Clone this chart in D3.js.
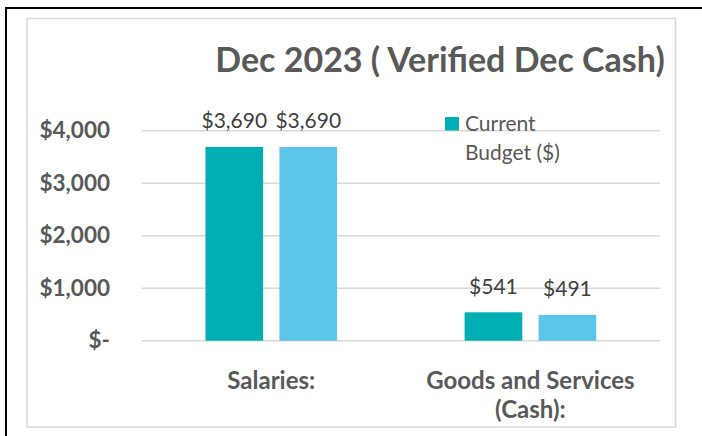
<!DOCTYPE html>
<html>
<head>
<meta charset="utf-8">
<script src="https://cdn.jsdelivr.net/npm/d3@7"></script>
<style>
  body { margin: 0; background: #fff; }
  text { font-family: Lato, "Open Sans", sans-serif; }
</style>
</head>
<body>
<div id="chart"></div>
<script>
var categories = ["Salaries:", "Goods and Services (Cash):"],
    seriesNames = ["Current Budget ($)", "Verified Dec Cash"],
    currentBudget = [3690, 541],
    verifiedCash = [3690, 491],
    yTicks = [0, 1000, 2000, 3000, 4000],
    titleText = "Dec 2023 ( Verified Dec Cash)"

var W = 702, H = 436,
    colors = ["#00aeb3", "#5bc6ea"],
    textGrey = "#595959",
    gridGrey = "#d9d9d9"

var svg = d3.select("#chart").append("svg")
    .attr("width", W)
    .attr("height", H)

// sheet cell border + chart area frame
svg.append("path")
    .attr("d", "M6,436V8H702")
    .style("fill", "none")
    .style("stroke", "#000")
    .style("stroke-width", 2)
svg.append("rect")
    .attr("x", 27).attr("y", 18.5)
    .attr("width", 648.5).attr("height", 408.5)
    .style("fill", "#fff")
    .style("stroke", gridGrey)
    .style("stroke-width", 1.5)

var x0 = d3.scaleBand()
    .domain(categories)
    .range([141.7, 660])
    .paddingInner(0.492)
    .paddingOuter(0.246)
var x1 = d3.scaleBand()
    .domain(seriesNames)
    .range([0, x0.bandwidth()])
    .paddingInner(0.22)
var y = d3.scaleLinear()
    .domain([0, 4000])
    .range([340.7, 130.7])

// gridlines
svg.append("g")
    .selectAll("line")
    .data(yTicks)
    .join("line")
    .attr("x1", 141.7).attr("x2", 660)
    .attr("y1", d => y(d)).attr("y2", d => y(d))
    .style("stroke", gridGrey)
    .style("stroke-width", 1.5)

// y axis labels
var yAxis = svg.append("g")
    .attr("transform", "translate(110,0)")
    .call(d3.axisLeft(y)
          .tickValues(yTicks)
          .tickSize(0)
          .tickPadding(0)
          .tickFormat(d => d === 0 ? "$-" : d3.format("$,")(d)))
yAxis.select(".domain").remove()
yAxis.selectAll("text")
    .style("font-family", "Lato, sans-serif")
    .style("font-size", "22.5px")
    .style("font-weight", "bold")
    .style("fill", textGrey)

var rows = categories.map((c, i) => ({
    cat: c,
    values: [currentBudget[i], verifiedCash[i]]
}))

var groups = svg.append("g")
    .selectAll("g")
    .data(rows)
    .join("g")
    .attr("transform", d => "translate(" + x0(d.cat) + ",0)")

var bars = groups.selectAll("g")
    .data(d => d.values.map((v, j) => ({ name: seriesNames[j], value: v, j: j })))
    .join("g")

bars.append("rect")
    .attr("x", d => x1(d.name))
    .attr("y", d => y(d.value))
    .attr("width", x1.bandwidth())
    .attr("height", d => y(0) - y(d.value))
    .style("fill", d => colors[d.j])

bars.append("text")
    .attr("x", d => x1(d.name) + x1.bandwidth() / 2)
    .attr("y", d => y(d.value) - 18.5)
    .attr("text-anchor", "middle")
    .style("font-size", "21px")
    .style("fill", "#404040")
    .text(d => d3.format("$,")(d.value))

// category labels, wrapped like Excel does
var catLines = [["Salaries:"], ["Goods and Services", "(Cash):"]]
svg.append("g")
    .selectAll("text")
    .data(categories)
    .join("text")
    .attr("x", d => x0(d) + x0.bandwidth() / 2)
    .attr("y", 388.5)
    .attr("text-anchor", "middle")
    .style("font-size", "24px")
    .style("font-weight", "bold")
    .style("fill", textGrey)
    .selectAll("tspan")
    .data((d, i) => catLines[i])
    .join("tspan")
    .attr("x", function() { return this.parentNode.getAttribute("x") })
    .attr("dy", (d, i) => i ? 29 : 0)
    .text(d => d)

// title
svg.append("text")
    .attr("x", 440)
    .attr("y", 71.5)
    .attr("text-anchor", "middle")
    .style("font-size", "34px")
    .style("font-weight", "bold")
    .style("fill", textGrey)
    .text(titleText)

// legend (only first series shown)
var legend = svg.append("g")
    .attr("transform", "translate(445,117)")
legend.append("rect")
    .attr("width", 14).attr("height", 13.5)
    .style("fill", colors[0])
legend.append("text")
    .attr("x", 20)
    .attr("y", 14)
    .style("font-size", "21px")
    .style("fill", textGrey)
    .selectAll("tspan")
    .data(["Current", "Budget ($)"])
    .join("tspan")
    .attr("x", 20)
    .attr("dy", (d, i) => i ? 29 : 0)
    .text(d => d)
</script>
</body>
</html>
